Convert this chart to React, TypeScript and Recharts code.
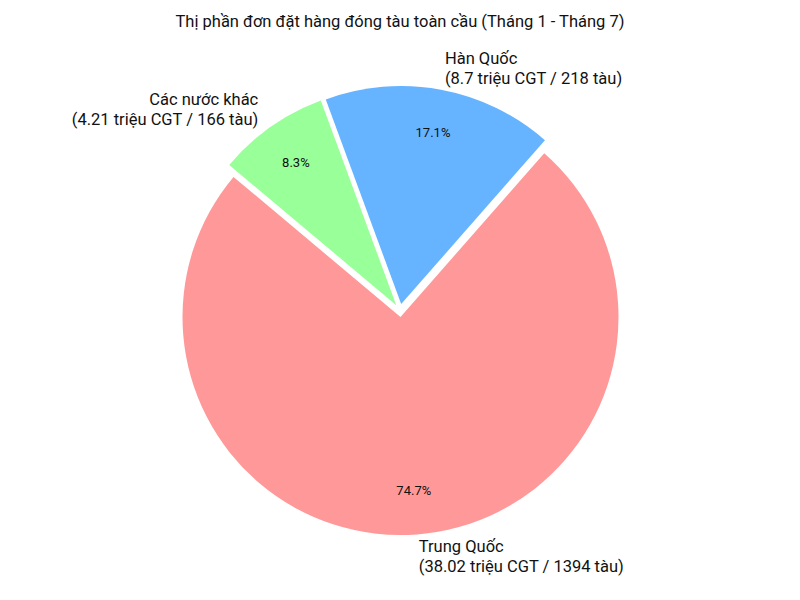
import React from 'react';
import { PieChart, Pie, Cell } from 'recharts';

const countries = ['Trung Quốc', 'Hàn Quốc', 'Các nước khác'];
const cgtValues = [38.02, 8.7, 4.21];
const shipCounts = [1394, 218, 166];
const colors = ['#ff9999', '#66b3ff', '#99ff99'];
const title = 'Thị phần đơn đặt hàng đóng tàu toàn cầu (Tháng 1 - Tháng 7)';

const data = countries.map((name, i) => ({ name, value: cgtValues[i], ships: shipCounts[i] }));

const RADIAN = Math.PI / 180;
const CX = 400;
const CY = 310.5;
const R = 218;
const EXPLODE = 0.03 * R;
const START = 140;
const FONT = 'Roboto, "Noto Sans", sans-serif';

const total = cgtValues.reduce((a, b) => a + b, 0);
// middle angle of every wedge, to push it out from the centre (like matplotlib explode)
const midAngles = cgtValues.map((v, i) => {
  const before = cgtValues.slice(0, i).reduce((a, b) => a + b, 0);
  return START + (360 * (before + v / 2)) / total;
});

const makeLabel = (slice: number) => (props: any) => {
  const { cx, cy, midAngle, outerRadius, percent, index } = props;
  if (index !== slice) return null;
  const cos = Math.cos(-midAngle * RADIAN);
  const sin = Math.sin(-midAngle * RADIAN);
  const lx = cx + outerRadius * 1.1 * cos;
  const ly = cy + outerRadius * 1.1 * sin;
  const px = cx + outerRadius * 0.8 * cos;
  const py = cy + outerRadius * 0.8 * sin;
  const anchor = cos >= 0 ? 'start' : 'end';
  const d = data[index];
  return (
    <g key={`lbl-${slice}`}>
      <text x={lx} y={ly} textAnchor={anchor} fontSize={16.5} fill="#111" fontFamily={FONT}>
        <tspan x={lx} y={ly - 10} dominantBaseline="central">{d.name}</tspan>
        <tspan x={lx} y={ly + 10} dominantBaseline="central">
          ({d.value} triệu CGT / {d.ships} tàu)
        </tspan>
      </text>
      <text x={px} y={py} textAnchor="middle" dominantBaseline="central" fontSize={13} fill="#111" fontFamily={FONT}>
        {(percent * 100).toFixed(1)}%
      </text>
    </g>
  );
};

const App: React.FC = () => {
  return (
    <div style={{ position: 'absolute', left: 0, top: 0, width: 800, height: 600, background: '#fff', fontFamily: FONT }}>
      <div style={{ position: 'absolute', top: 12, left: 0, width: 800, textAlign: 'center', fontSize: 16.5, lineHeight: '20px', color: '#111' }}>
        {title}
      </div>
      <PieChart width={800} height={600} margin={{ top: 0, right: 0, bottom: 0, left: 0 }}>
        {midAngles.map((mid, slice) => (
          <Pie
            key={slice}
            data={data}
            dataKey="value"
            nameKey="name"
            cx={CX + EXPLODE * Math.cos(mid * RADIAN)}
            cy={CY - EXPLODE * Math.sin(mid * RADIAN)}
            outerRadius={R}
            startAngle={START}
            endAngle={START + 360}
            stroke="none"
            labelLine={false}
            label={makeLabel(slice)}
            isAnimationActive={false}
          >
            {data.map((_, j) => (
              <Cell key={`cell-${j}`} fill={j === slice ? colors[j] : 'transparent'} />
            ))}
          </Pie>
        ))}
      </PieChart>
    </div>
  );
};

export default App;
